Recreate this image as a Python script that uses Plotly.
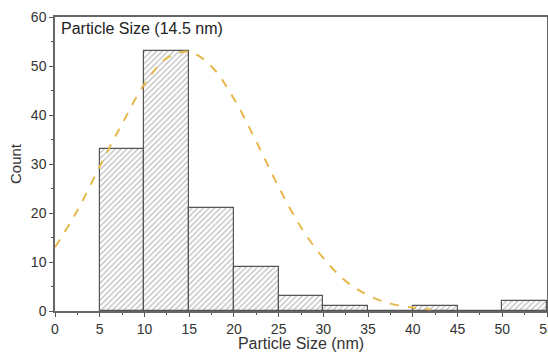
import plotly.graph_objects as go

bin_left = [5, 10, 15, 20, 25, 30, 35, 40, 45, 50]
counts = [33, 53, 21, 9, 3, 1, 0, 1, 0, 2]
bin_width = 5

fit_x = [0, 2.5, 5, 7.5, 10, 12.5, 15, 17.5, 20, 22.5, 25, 27.5, 30, 32.5, 35, 37.5, 40, 42]
fit_y = [13.0, 20.5, 29.5, 38.2, 46.3, 51.6, 52.9, 49.9, 43.3, 34.6, 25.3, 17.1, 10.8, 6.1, 3.2, 1.5, 0.7, 0.3]

label = "Particle Size (14.5 nm)"
xtitle = "Particle Size (nm)"
ytitle = "Count"

fig = go.Figure()
fig.add_trace(go.Bar(
    x=[b + bin_width / 2 for b in bin_left], y=counts, width=bin_width,
    marker=dict(color="white", line=dict(color="#555555", width=1.2),
                pattern=dict(shape="/", fgcolor="#777777", size=4, solidity=0.3)),
    showlegend=False,
))
fig.add_trace(go.Scatter(
    x=fit_x, y=fit_y, mode="lines", line=dict(color="#E6B84C", width=2, dash="dash", shape="spline"),
    showlegend=False,
))

font = dict(family="Liberation Sans, Arial, sans-serif", size=14, color="#333333")
fig.update_layout(
    width=548, height=352, margin=dict(l=55, r=1, t=17, b=41, autoexpand=False),
    paper_bgcolor="white", plot_bgcolor="white", font=font, bargap=0,
    xaxis=dict(range=[0, 55], tickvals=list(range(0, 56, 5)), ticks="outside", ticklen=4,
               tickcolor="#555555", showline=True, linecolor="#666666", linewidth=1.5, mirror=True,
               showgrid=False, zeroline=False, ticklabeloverflow="allow", automargin=False,
               minor=dict(tickvals=[2.5 + 5 * i for i in range(11)], ticks="outside", ticklen=2, tickcolor="#555555"),
               title=dict(text=xtitle, standoff=2, font=dict(size=16))),
    yaxis=dict(range=[0, 60], tickvals=list(range(0, 61, 10)), ticks="outside", ticklen=4,
               tickcolor="#555555", showline=True, linecolor="#666666", linewidth=1.5, mirror=True,
               showgrid=False, zeroline=False, automargin=False,
               minor=dict(tickvals=[5 + 10 * i for i in range(6)], ticks="outside", ticklen=2, tickcolor="#555555"),
               title=dict(text=ytitle, standoff=6, font=dict(size=15))),
    annotations=[dict(text=label, x=0.008, y=0.995, xref="paper", yref="paper",
                      xanchor="left", yanchor="top", showarrow=False, font=dict(size=16, color="#222222"))],
)
fig.write_html("out.html")
